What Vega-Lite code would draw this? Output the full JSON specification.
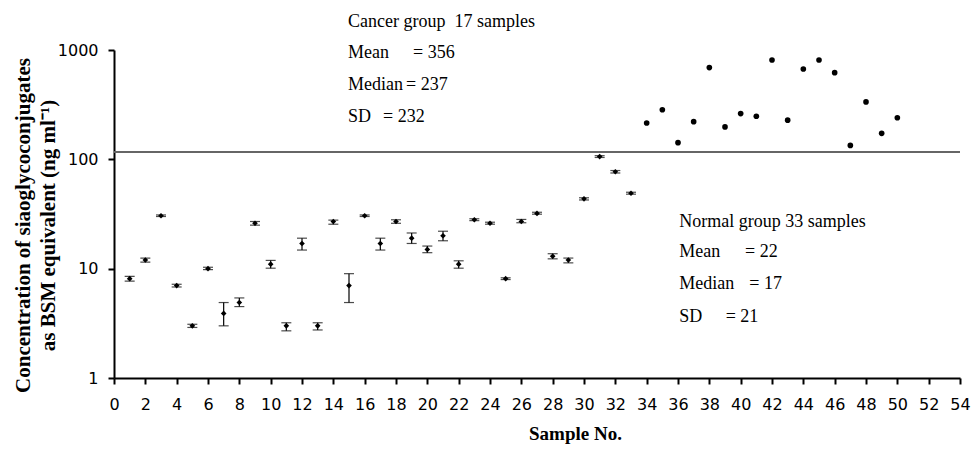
{
  "$schema": "https://vega.github.io/schema/vega-lite/v6.json",
  "width": 846,
  "height": 328,
  "autosize": {"type": "none"},
  "padding": {"left": 114, "top": 50, "right": 20, "bottom": 71},
  "background": "white",
  "config": {"view": {"stroke": null}},
  "datasets": {
    "samples": [
      {"n": 1, "v": 8.1, "lo": 7.7, "hi": 8.5, "group": "normal"},
      {"n": 2, "v": 12, "lo": 11.5, "hi": 12.5, "group": "normal"},
      {"n": 3, "v": 30.5, "lo": 30, "hi": 31, "group": "normal"},
      {"n": 4, "v": 7, "lo": 6.8, "hi": 7.2, "group": "normal"},
      {"n": 5, "v": 3, "lo": 2.9, "hi": 3.1, "group": "normal"},
      {"n": 6, "v": 10, "lo": 9.8, "hi": 10.3, "group": "normal"},
      {"n": 7, "v": 3.9, "lo": 3.0, "hi": 4.9, "group": "normal"},
      {"n": 8, "v": 4.9, "lo": 4.5, "hi": 5.4, "group": "normal"},
      {"n": 9, "v": 26, "lo": 25, "hi": 27, "group": "normal"},
      {"n": 10, "v": 11, "lo": 10.1, "hi": 11.9, "group": "normal"},
      {"n": 11, "v": 3, "lo": 2.7, "hi": 3.2, "group": "normal"},
      {"n": 12, "v": 17, "lo": 14.8, "hi": 19, "group": "normal"},
      {"n": 13, "v": 3, "lo": 2.75, "hi": 3.2, "group": "normal"},
      {"n": 14, "v": 27, "lo": 25.5, "hi": 27.8, "group": "normal"},
      {"n": 15, "v": 7, "lo": 4.9, "hi": 9, "group": "normal"},
      {"n": 16, "v": 30.5, "lo": 30, "hi": 31, "group": "normal"},
      {"n": 17, "v": 17, "lo": 14.8, "hi": 19, "group": "normal"},
      {"n": 18, "v": 27, "lo": 26, "hi": 28, "group": "normal"},
      {"n": 19, "v": 19, "lo": 17, "hi": 21.2, "group": "normal"},
      {"n": 20, "v": 15, "lo": 14, "hi": 16.1, "group": "normal"},
      {"n": 21, "v": 20, "lo": 18, "hi": 22, "group": "normal"},
      {"n": 22, "v": 11, "lo": 10.1, "hi": 11.8, "group": "normal"},
      {"n": 23, "v": 28, "lo": 27.5, "hi": 28.6, "group": "normal"},
      {"n": 24, "v": 26, "lo": 25.5, "hi": 26.6, "group": "normal"},
      {"n": 25, "v": 8.1, "lo": 7.95, "hi": 8.25, "group": "normal"},
      {"n": 26, "v": 27, "lo": 26.3, "hi": 28.2, "group": "normal"},
      {"n": 27, "v": 32, "lo": 31.5, "hi": 32.8, "group": "normal"},
      {"n": 28, "v": 13, "lo": 12.3, "hi": 13.7, "group": "normal"},
      {"n": 29, "v": 12, "lo": 11.3, "hi": 12.5, "group": "normal"},
      {"n": 30, "v": 43.5, "lo": 42.5, "hi": 44.5, "group": "normal"},
      {"n": 31, "v": 106, "lo": 104, "hi": 108, "group": "normal"},
      {"n": 32, "v": 77, "lo": 75, "hi": 79, "group": "normal"},
      {"n": 33, "v": 49, "lo": 48, "hi": 50, "group": "normal"},
      {"n": 34, "v": 215, "group": "cancer"},
      {"n": 35, "v": 284, "group": "cancer"},
      {"n": 36, "v": 142, "group": "cancer"},
      {"n": 37, "v": 221, "group": "cancer"},
      {"n": 38, "v": 690, "group": "cancer"},
      {"n": 39, "v": 198, "group": "cancer"},
      {"n": 40, "v": 262, "group": "cancer"},
      {"n": 41, "v": 248, "group": "cancer"},
      {"n": 42, "v": 810, "group": "cancer"},
      {"n": 43, "v": 228, "group": "cancer"},
      {"n": 44, "v": 670, "group": "cancer"},
      {"n": 45, "v": 810, "group": "cancer"},
      {"n": 46, "v": 620, "group": "cancer"},
      {"n": 47, "v": 134, "group": "cancer"},
      {"n": 48, "v": 335, "group": "cancer"},
      {"n": 49, "v": 173, "group": "cancer"},
      {"n": 50, "v": 240, "group": "cancer"}
    ],
    "notes": [
      {"n": 14.94, "y": 1804, "text": "Cancer group\u00a0 17 samples"},
      {"n": 14.94, "y": 939, "text": "Mean"},
      {"n": 19.09, "y": 939, "text": "= 356"},
      {"n": 14.94, "y": 479, "text": "Median"},
      {"n": 18.64, "y": 479, "text": "= 237"},
      {"n": 14.94, "y": 244, "text": "SD"},
      {"n": 17.17, "y": 244, "text": "= 232"},
      {"n": 36.08, "y": 26.9, "text": "Normal group 33 samples"},
      {"n": 36.08, "y": 14.1, "text": "Mean"},
      {"n": 40.28, "y": 14.1, "text": "= 22"},
      {"n": 36.08, "y": 7.2, "text": "Median"},
      {"n": 40.55, "y": 7.2, "text": "= 17"},
      {"n": 36.08, "y": 3.64, "text": "SD"},
      {"n": 39.04, "y": 3.64, "text": "= 21"}
    ]
  },
  "layer": [
    {
      "data": {"values": [{"cut": 117}]},
      "mark": {"type": "rule", "color": "#666666", "strokeWidth": 2},
      "encoding": {
        "y": {"field": "cut", "type": "quantitative", "scale": {"type": "log", "domain": [1, 1000], "nice": false}, "axis": null}
      }
    },
    {
      "data": {"name": "samples"},
      "transform": [{"filter": "isValid(datum.lo)"}],
      "mark": {"type": "errorbar", "color": "black", "ticks": {"size": 10, "color": "black", "thickness": 1.2}, "rule": {"color": "black", "strokeWidth": 1.2}},
      "encoding": {
        "x": {
          "field": "n", "type": "quantitative", "scale": {"domain": [0, 54], "nice": false},
          "axis": {
            "values": [0, 2, 4, 6, 8, 10, 12, 14, 16, 18, 20, 22, 24, 26, 28, 30, 32, 34, 36, 38, 40, 42, 44, 46, 48, 50, 52, 54],
            "tickSize": 6, "tickWidth": 2, "tickColor": "black",
            "domainColor": "black", "domainWidth": 2,
            "labelFont": "DejaVu Sans", "labelFontSize": 16, "labelColor": "black", "labelPadding": 12,
            "labelFlush": false, "labelOverlap": false, "labelBound": false, "grid": false,
            "title": "Sample No.", "titleFont": "Liberation Serif", "titleFontWeight": "bold", "titleFontSize": 19,
            "titleColor": "black", "titleX": 461, "titleY": 55, "titleBaseline": "middle"
          }
        },
        "y": {"field": "lo", "type": "quantitative", "scale": {"type": "log", "domain": [1, 1000], "nice": false}, "axis": null},
        "y2": {"field": "hi"}
      }
    },
    {
      "data": {"name": "samples"},
      "mark": {"type": "point", "filled": true, "color": "black", "opacity": 1, "size": 32},
      "encoding": {
        "x": {
          "field": "n", "type": "quantitative", "scale": {"domain": [0, 54], "nice": false},
          "axis": {
            "values": [0, 2, 4, 6, 8, 10, 12, 14, 16, 18, 20, 22, 24, 26, 28, 30, 32, 34, 36, 38, 40, 42, 44, 46, 48, 50, 52, 54],
            "tickSize": 6, "tickWidth": 2, "tickColor": "black",
            "domainColor": "black", "domainWidth": 2,
            "labelFont": "DejaVu Sans", "labelFontSize": 16, "labelColor": "black", "labelPadding": 12,
            "labelFlush": false, "labelOverlap": false, "labelBound": false, "grid": false,
            "title": "Sample No.", "titleFont": "Liberation Serif", "titleFontWeight": "bold", "titleFontSize": 19,
            "titleColor": "black", "titleX": 461, "titleY": 55, "titleBaseline": "middle"
          }
        },
        "y": {"field": "v", "type": "quantitative", "scale": {"type": "log", "domain": [1, 1000], "nice": false}, "axis": null},
        "shape": {"field": "group", "type": "nominal", "scale": {"domain": ["normal", "cancer"], "range": ["diamond", "circle"]}, "legend": null}
      }
    },
    {
      "data": {"name": "notes"},
      "mark": {"type": "text", "align": "left", "baseline": "middle", "font": "Liberation Serif", "fontSize": 18, "color": "black"},
      "encoding": {
        "x": {
          "field": "n", "type": "quantitative", "scale": {"domain": [0, 54], "nice": false},
          "axis": {
            "values": [0, 2, 4, 6, 8, 10, 12, 14, 16, 18, 20, 22, 24, 26, 28, 30, 32, 34, 36, 38, 40, 42, 44, 46, 48, 50, 52, 54],
            "tickSize": 6, "tickWidth": 2, "tickColor": "black",
            "domainColor": "black", "domainWidth": 2,
            "labelFont": "DejaVu Sans", "labelFontSize": 16, "labelColor": "black", "labelPadding": 12,
            "labelFlush": false, "labelOverlap": false, "labelBound": false, "grid": false,
            "title": "Sample No.", "titleFont": "Liberation Serif", "titleFontWeight": "bold", "titleFontSize": 19,
            "titleColor": "black", "titleX": 461, "titleY": 55, "titleBaseline": "middle"
          }
        },
        "y": {
          "field": "y", "type": "quantitative", "scale": {"type": "log", "domain": [1, 1000], "nice": false},
          "axis": {
            "orient": "left",
            "values": [1, 10, 100, 1000],
            "format": "d",
            "tickSize": 6, "tickWidth": 2, "tickColor": "black",
            "domain": true, "domainColor": "black", "domainWidth": 2, "grid": false,
            "labelFont": "DejaVu Sans", "labelFontSize": 16, "labelColor": "black", "labelPadding": 10,
            "title": ["Concentration of siaoglycoconjugates", "as BSM equivalent (ng ml\u207b\u00b9)"],
            "titleFont": "Liberation Serif", "titleFontWeight": "bold", "titleFontSize": 21, "titleColor": "black",
            "titleX": -91, "titleY": 175, "titleAngle": 270, "titleBaseline": "middle", "titleAlign": "center", "titleLineHeight": 25
          }
        },
        "text": {"field": "text"}
      }
    }
  ],
  "resolve": {"axis": {"y": "independent"}}
}
